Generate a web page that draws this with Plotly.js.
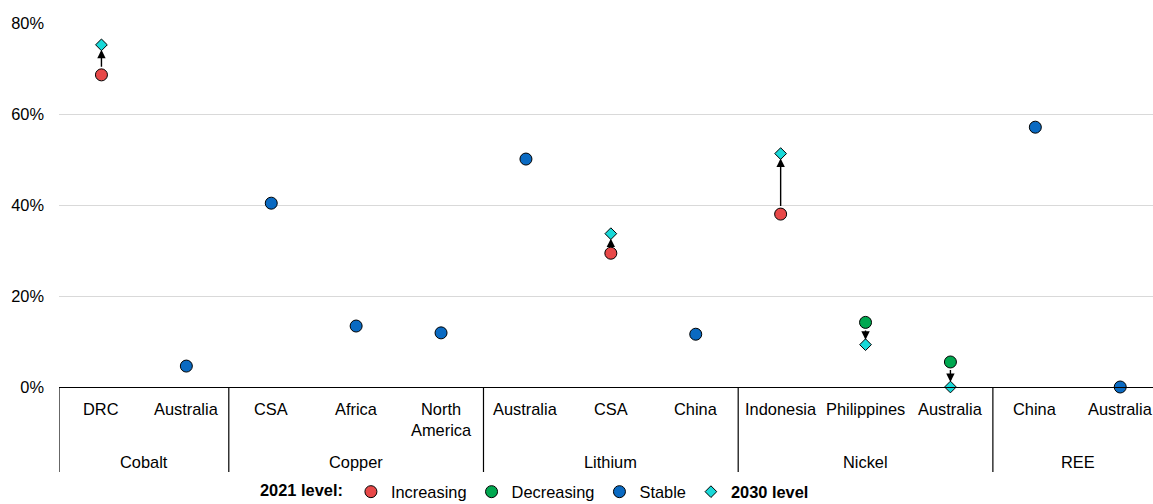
<!DOCTYPE html>
<html>
<head>
<meta charset="utf-8">
<script src="https://cdn.plot.ly/plotly-3.0.1.min.js"></script>
<style>
  html, body { margin: 0; padding: 0; background: #fff; }
  #chart { width: 1153px; height: 504px; }
</style>
</head>
<body>
<div id="chart"></div>
<script>
// ---- Data ----
const groupNames = ['Cobalt', 'Cobalt', 'Copper', 'Copper', 'Copper', 'Lithium', 'Lithium', 'Lithium', 'Nickel', 'Nickel', 'Nickel', 'REE', 'REE'];
const subLabels = ['DRC', 'Australia', 'CSA', 'Africa', 'North<br>America', 'Australia', 'CSA', 'China', 'Indonesia', 'Philippines', 'Australia', 'China', 'Australia'];
const level2021 = [68.6, 4.6, 40.4, 13.4, 11.9, 50.1, 29.4, 11.6, 38.0, 14.2, 5.5, 57.1, 0];
const level2030 = [75.2, null, null, null, null, null, 33.7, null, 51.3, 9.3, 0, null, null];
const yTicks = [0, 20, 40, 60, 80];

// ---- Styling ----
const FONT = 'Liberation Sans, Arial, sans-serif';
const FS = 16.4;
const COLORS = { Increasing: '#E84848', Decreasing: '#00A850', Stable: '#0A6AC2', target: '#19D8D8' };

const idx = subLabels.map((_, i) => i);
function status(i) {
  if (level2030[i] === null) return 'Stable';
  return level2030[i] > level2021[i] ? 'Increasing' : 'Decreasing';
}

// pixel -> paper helpers (plot area: top 23, height 364)
const PT = 23, PH = 364;
const py = p => (PT + PH - p) / PH;

const traces = [];
['Increasing', 'Decreasing', 'Stable'].forEach(s => {
  const xs = [], ys = [];
  idx.forEach(i => { if (status(i) === s) { xs.push(i); ys.push(level2021[i]); } });
  traces.push({
    type: 'scatter', mode: 'markers', name: s, x: xs, y: ys,
    cliponaxis: false, hoverinfo: 'y',
    marker: { symbol: 'circle', size: 12, color: COLORS[s], line: { color: '#000', width: 1 } }
  });
});
{
  const xs = [], ys = [];
  idx.forEach(i => { if (level2030[i] !== null) { xs.push(i); ys.push(level2030[i]); } });
  traces.push({
    type: 'scatter', mode: 'markers', name: '<b>2030 level</b>', x: xs, y: ys,
    cliponaxis: false, hoverinfo: 'y',
    marker: { symbol: 'diamond', size: 9, color: COLORS.target, line: { color: '#000', width: 1 } }
  });
}

const annotations = [];
// arrows from 2021 level to 2030 level
idx.forEach(i => {
  if (level2030[i] === null) return;
  annotations.push({
    x: i, y: level2030[i], xref: 'x', yref: 'y',
    ax: i, ay: level2021[i], axref: 'x', ayref: 'y',
    showarrow: true, arrowhead: 2, arrowsize: 1.2, arrowwidth: 1.4, arrowcolor: '#000',
    standoff: 5, startstandoff: 6.5, text: ''
  });
});
// sub-category labels
idx.forEach(i => {
  annotations.push({
    x: i, xref: 'x', y: py(398), yref: 'paper', yanchor: 'top', xanchor: 'center',
    text: subLabels[i], showarrow: false, font: { family: FONT, size: FS, color: '#000' }
  });
});
// group labels + dividers
const shapes = [];
let start = 0;
for (let i = 1; i <= groupNames.length; i++) {
  if (i === groupNames.length || groupNames[i] !== groupNames[start]) {
    annotations.push({
      x: (start + i - 1) / 2, xref: 'x', y: py(461.7), yref: 'paper', yanchor: 'middle', xanchor: 'center',
      text: groupNames[start], showarrow: false, font: { family: FONT, size: FS, color: '#000' }
    });
    shapes.push({
      type: 'line', xref: 'x', yref: 'paper', x0: start - 0.5, x1: start - 0.5, y0: 0, y1: py(472),
      line: { color: '#000', width: 1.2 }
    });
    start = i;
  }
}

const layout = {
  width: 1153, height: 504,
  margin: { l: 59, r: 0, t: PT, b: 504 - PT - PH, pad: 0, autoexpand: false },
  paper_bgcolor: '#fff', plot_bgcolor: '#fff',
  font: { family: FONT, size: FS, color: '#000' },
  showlegend: true,
  legend: {
    orientation: 'h', x: 0.436, xanchor: 'center', y: py(492), yanchor: 'middle',
    title: { text: '<b>2021 level:</b>', font: { family: FONT, size: FS, color: '#000' } },
    font: { family: FONT, size: FS, color: '#000' },
    itemwidth: 30, tracegroupgap: 0, bgcolor: 'rgba(0,0,0,0)'
  },
  xaxis: {
    type: 'linear', range: [-0.5, 12.386], showgrid: false, zeroline: false,
    showticklabels: false, ticks: '', showline: true, linecolor: '#000', linewidth: 1.3,
    fixedrange: true
  },
  yaxis: {
    range: [0, 80], tickvals: yTicks, ticktext: yTicks.map(v => v + '%'),
    showgrid: true, gridcolor: '#d9d9d9', gridwidth: 1, zeroline: false, showline: false,
    ticks: '', ticklabelstandoff: 14, tickfont: { family: FONT, size: FS, color: '#000' },
    fixedrange: true
  },
  annotations: annotations,
  shapes: shapes
};

Plotly.newPlot('chart', traces, layout, { displayModeBar: false, staticPlot: true });
</script>
</body>
</html>
